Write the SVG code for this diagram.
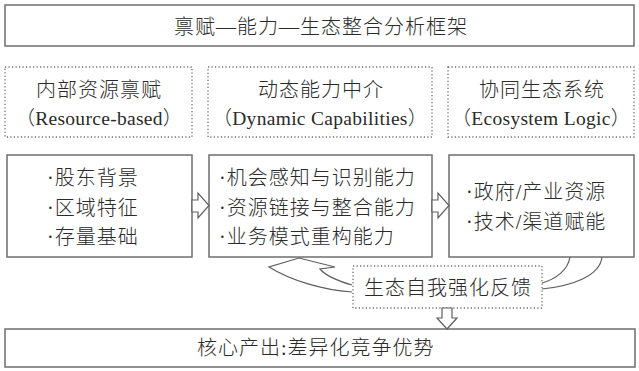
<svg xmlns="http://www.w3.org/2000/svg" width="639" height="371" viewBox="0 0 639 371">
<style>
.box{fill:#fff;stroke:#6e6e6e;stroke-width:1.5}
.dot{fill:#fff;stroke:#6e6e6e;stroke-width:1.3;stroke-dasharray:1.2 2.3}
.arr{fill:#fff;stroke:#5e5e5e;stroke-width:1.2;stroke-linejoin:miter}
.ln{fill:none;stroke:#5e5e5e;stroke-width:1.2}
text{font-family:"Liberation Serif","Noto Sans CJK SC",serif;font-size:20px;fill:#2a2a2a;letter-spacing:1px;font-weight:300}
.c{text-anchor:middle}
.en{font-size:19.5px;letter-spacing:0.3px}
</style>
<rect width="639" height="371" fill="#fff"/>
<g id="title">
<rect class="box" x="5" y="5" width="629" height="41"/>
<text class="c" x="321" y="34">禀赋—能力—生态整合分析框架</text>
</g>
<g id="h1">
<rect class="dot" x="5" y="67" width="187" height="70"/>
<text class="c" x="99" y="97">内部资源禀赋</text>
<text class="c en" x="99" y="125">（Resource-based）</text>
</g>
<g id="h2">
<rect class="dot" x="208" y="67" width="224" height="70"/>
<text class="c" x="321" y="97">动态能力中介</text>
<text class="c en" x="320" y="125">（Dynamic Capabilities）</text>
</g>
<g id="h3">
<rect class="dot" x="448" y="67" width="186" height="70"/>
<text class="c" x="542" y="97">协同生态系统</text>
<text class="c en" x="541" y="125">（Ecosystem Logic）</text>
</g>
<g id="b1">
<rect class="box" x="7" y="155" width="185" height="102"/>
<text x="47" y="185">·股东背景</text>
<text x="47" y="215">·区域特征</text>
<text x="47" y="244">·存量基础</text>
</g>
<g id="b2">
<rect class="box" x="209" y="155" width="223" height="102"/>
<text x="219" y="185">·机会感知与识别能力</text>
<text x="219" y="215">·资源链接与整合能力</text>
<text x="219" y="244">·业务模式重构能力</text>
</g>
<g id="b3">
<rect class="box" x="449" y="155" width="185" height="102"/>
<text x="466" y="199">·政府/产业资源</text>
<text x="466" y="229">·技术/渠道赋能</text>
</g>
<g id="feedback">
<rect class="dot" x="353" y="266" width="189" height="42"/>
<text class="c" x="448" y="295">生态自我强化反馈</text>
</g>
<g id="output">
<rect class="box" x="5" y="329" width="630" height="38"/>
<text x="197" y="355">核心产出:差异化竞争优势</text>
</g>
<g id="connectors">
<polygon class="arr" points="192,200 198,200 198,193 209,205.5 198,218 198,212 192,212"/>
<polygon class="arr" points="432,200 438,200 438,193 449,205.5 438,218 438,212 432,212"/>
<polygon class="arr" points="442,308 452,308 452,318 457,318 447,329 437,318 442,318"/>
<path class="arr" d="M352,285 C338,281 325,275 320,269 L335,267 L299,258 L269,267 C290,280 322,290 352,292"/>
<path class="ln" d="M570,257 C568,270 556,279 542,283"/>
<path class="ln" d="M602,257 C600,276 572,286 542,289"/>
</g>
</svg>
